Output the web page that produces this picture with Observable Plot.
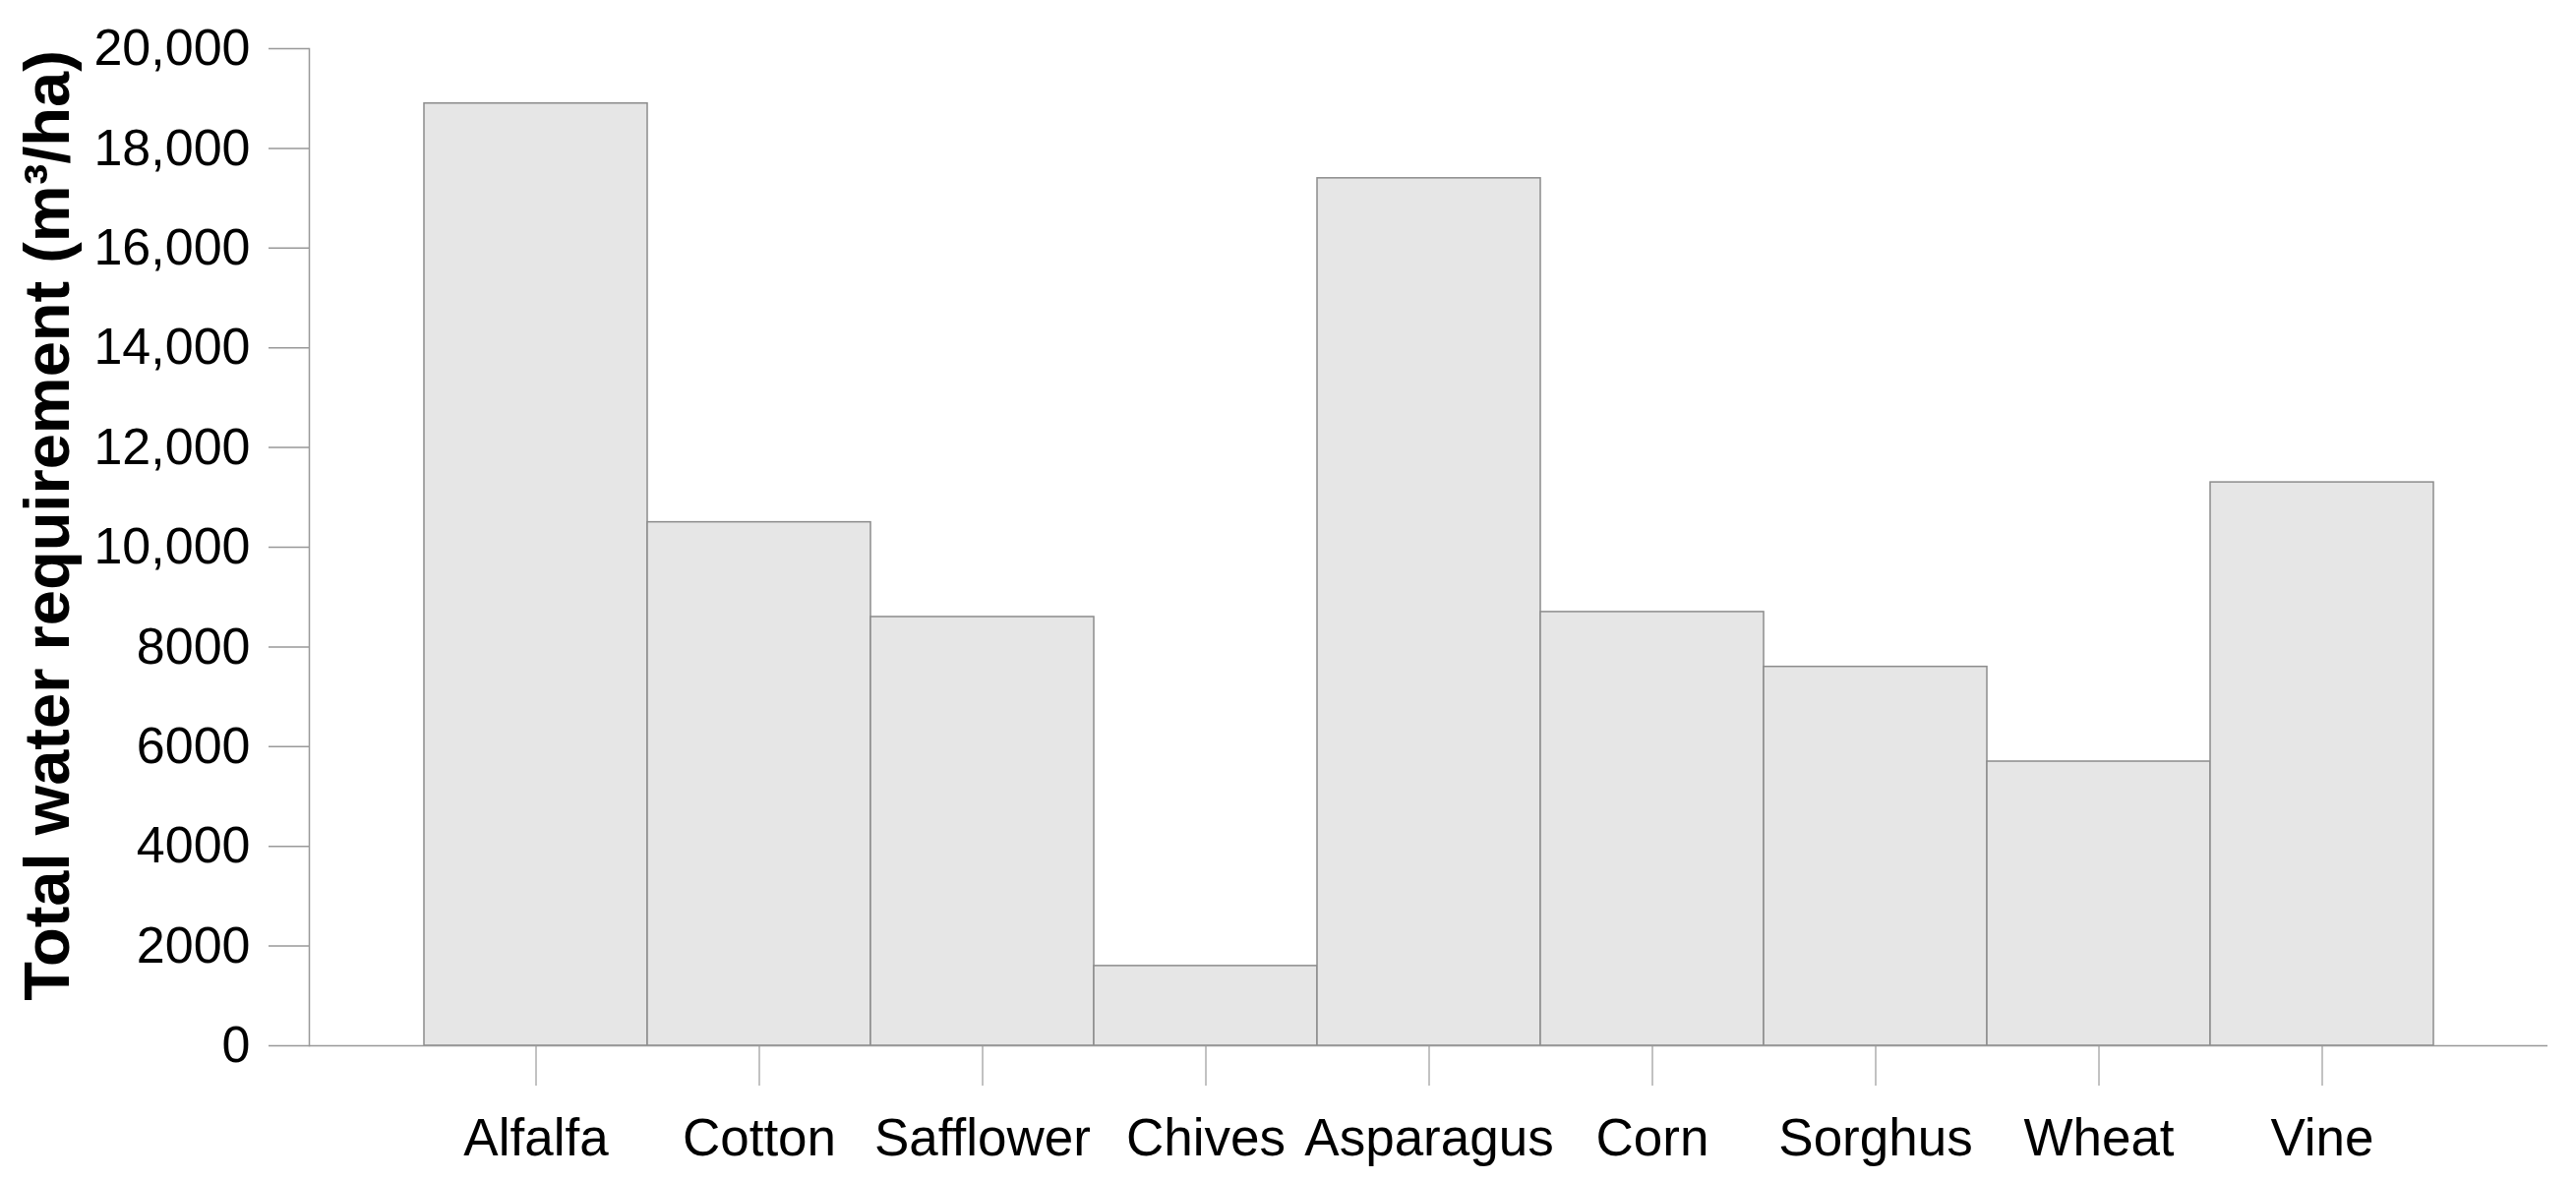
<!DOCTYPE html>
<html>
<head>
<meta charset="utf-8">
<script src="https://cdn.jsdelivr.net/npm/d3@7"></script>
<script src="https://cdn.jsdelivr.net/npm/@observablehq/plot@0.6"></script>
<style>
  html, body { margin: 0; padding: 0; background: #fff; }
  #chart svg { display: block; }
</style>
</head>
<body>
<div id="chart"></div>
<script>
const crops = ["Alfalfa", "Cotton", "Safflower", "Chives", "Asparagus", "Corn", "Sorghus", "Wheat", "Vine"];
const waterRequirement = [18900, 10500, 8600, 1600, 17400, 8700, 7600, 5700, 11300];
const yTicks = [0, 2000, 4000, 6000, 8000, 10000, 12000, 14000, 16000, 18000, 20000];
const yTickLabels = ["0", "2000", "4000", "6000", "8000", "10,000", "12,000", "14,000", "16,000", "18,000", "20,000"];
const yTitle = "Total water requirement (m³/ha)";

const data = crops.map((c, i) => ({crop: c, value: waterRequirement[i]}));
const font = "Liberation Sans, Arial, Helvetica, sans-serif";

const chart = Plot.plot({
  width: 2619,
  height: 1200,
  marginTop: 49,
  marginBottom: 137,
  marginLeft: 314,
  marginRight: 29,
  style: {fontFamily: font, color: "black", background: "white"},
  x: {domain: crops, paddingInner: 0, paddingOuter: 0.5, label: null},
  y: {domain: [0, 20000], label: null},
  marks: [
    Plot.barY(data, {x: "crop", y: "value", fill: "#e6e6e6", stroke: "#8c8c8c", strokeWidth: 1.5}),
    Plot.ruleY([0], {stroke: "#999", strokeWidth: 1.5}),
    Plot.frame({anchor: "left", stroke: "#999", strokeWidth: 1.5}),
    Plot.axisY({
      ticks: yTicks,
      tickFormat: (d) => yTickLabels[yTicks.indexOf(d)],
      tickSize: 41,
      tickPadding: 19,
      fontSize: 52,
      stroke: "#999",
      strokeWidth: 1.5,
      fill: "black",
      label: null
    }),
    Plot.axisX({
      tickSize: 41,
      tickPadding: 33,
      fontSize: 53,
      stroke: "#999",
      strokeWidth: 1.2,
      fill: "black",
      label: null
    }),
    Plot.text([yTitle], {
      frameAnchor: "left",
      rotate: -90,
      textAnchor: "middle",
      lineAnchor: "middle",
      dx: -265,
      dy: -22,
      fontSize: 65,
      fontWeight: "bold",
      fill: "black"
    })
  ]
});
document.getElementById("chart").appendChild(chart);
</script>
</body>
</html>
